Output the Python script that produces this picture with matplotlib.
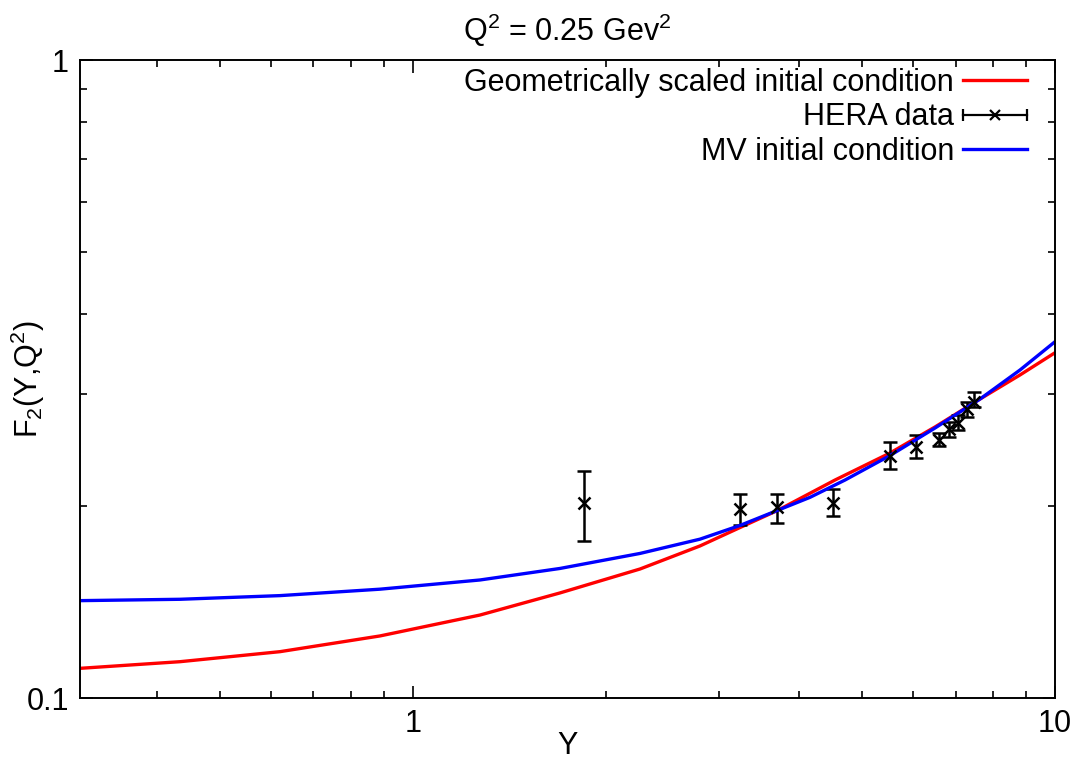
import numpy as np
import matplotlib
matplotlib.use("Agg")
import matplotlib.pyplot as plt
from matplotlib.legend_handler import HandlerBase
from matplotlib.lines import Line2D
from matplotlib.ticker import LogLocator, NullFormatter, FixedLocator, FixedFormatter

plt.rcParams['font.family'] = ['Liberation Sans', 'DejaVu Sans']
plt.rcParams['mathtext.fontset'] = 'custom'
plt.rcParams['mathtext.rm'] = 'Liberation Sans'
plt.rcParams['mathtext.it'] = 'Liberation Sans'

# Geometrically scaled initial condition (red)
geo_y = [0.3029, 0.4336, 0.6207, 0.8884, 1.2715, 1.694, 2.258, 2.799, 3.231, 3.690,
         4.543, 5.534, 6.505, 7.643, 8.822, 10.0]
geo_f2 = [0.1113, 0.1140, 0.1182, 0.1251, 0.1349, 0.1461, 0.1593, 0.1731, 0.1850, 0.1966,
          0.2196, 0.2421, 0.2660, 0.2942, 0.3209, 0.3477]

# MV initial condition (blue)
mv_y = [0.3029, 0.4336, 0.6207, 0.8884, 1.2715, 1.694, 2.258, 2.799, 3.231, 4.153,
        4.709, 5.534, 6.505, 7.643, 8.822, 10.0]
mv_f2 = [0.1421, 0.1428, 0.1447, 0.1481, 0.1531, 0.1596, 0.1685, 0.1774, 0.1864, 0.2063,
         0.2196, 0.2399, 0.2650, 0.2942, 0.3267, 0.3618]

# HERA data
hera_y = [1.849, 3.234, 3.69, 4.51, 5.53, 6.07, 6.59, 6.84, 7.07, 7.29, 7.49]
hera_f2 = [0.2019, 0.1976, 0.1990, 0.2023, 0.2394, 0.2471, 0.2537, 0.2637, 0.2700, 0.2835, 0.2914]
hera_lo = [0.1761, 0.1865, 0.1883, 0.1927, 0.2283, 0.2374, 0.2483, 0.2565, 0.2631, 0.2760, 0.2856]
hera_hi = [0.2271, 0.2090, 0.2088, 0.2126, 0.2516, 0.2580, 0.2599, 0.2707, 0.2777, 0.2914, 0.3021]

labels = ['Geometrically scaled initial condition', 'HERA data', 'MV initial condition']


class ErrHandler(HandlerBase):
    # gnuplot style key sample: horizontal bar with end caps and a cross
    def create_artists(self, legend, orig, xd, yd, w, h, fontsize, trans):
        y = -yd + h / 2
        x0, x1 = -xd, -xd + w
        bar = Line2D([x0, x1], [y, y], color='black', lw=1.6)
        caps = Line2D([x0, x1], [y, y], ls='none', marker='|', ms=9, mew=1.6, color='black')
        mk = Line2D([(x0 + x1) / 2], [y], ls='none', marker='x', ms=7, mew=1.6, color='black')
        for a in (bar, caps, mk):
            a.set_transform(trans)
        return [bar, caps, mk]


fig = plt.figure(figsize=(10.84, 7.62), dpi=100)
ax = fig.add_axes([80 / 1084, 64 / 762, 975 / 1084, 638 / 762])

l1, = ax.plot(geo_y, geo_f2, color='#ff0000', lw=2.4)
yerr = [np.array(hera_f2) - np.array(hera_lo), np.array(hera_hi) - np.array(hera_f2)]
ax.errorbar(hera_y, hera_f2, yerr=yerr, fmt='x', color='black', ms=8.5, mew=1.8,
            elinewidth=1.8, capsize=5, capthick=1.8)
l3, = ax.plot(mv_y, mv_f2, color='#0000ff', lw=2.4)
herah = Line2D([], [], color='black')

ax.set_xscale('log')
ax.set_yscale('log')
ax.set_xlim(0.303, 10)
ax.set_ylim(0.1, 1)

ax.xaxis.set_major_locator(FixedLocator([1, 10]))
ax.xaxis.set_major_formatter(FixedFormatter(['1', '10']))
ax.xaxis.set_minor_locator(LogLocator(base=10, subs=np.arange(2, 10)))
ax.xaxis.set_minor_formatter(NullFormatter())
ax.yaxis.set_major_locator(FixedLocator([0.1, 1]))
ax.yaxis.set_major_formatter(FixedFormatter(['0.1', '1']))
ax.yaxis.set_minor_locator(LogLocator(base=10, subs=np.arange(2, 10)))
ax.yaxis.set_minor_formatter(NullFormatter())

ax.tick_params(which='both', direction='in', top=True, right=True, labelsize=22, width=1.2)
ax.tick_params(which='major', length=9, pad=8)
ax.tick_params(which='minor', length=5)
for s in ax.spines.values():
    s.set_linewidth(1.4)

ax.set_xlabel('Y', fontsize=22, labelpad=-6)
ax.set_ylabel('F$_2$(Y,Q$^2$)', fontsize=22)
ax.yaxis.set_label_coords(-0.034, 0.5)
ax.set_title('Q$^2$ = 0.25 Gev$^2$', fontsize=22, pad=14)

ax.legend([l1, herah, l3], labels,
          handler_map={herah: ErrHandler()}, loc='upper right', bbox_to_anchor=(1 - 20 / 975, 1),
          frameon=False, markerfirst=False, fontsize=22, handlelength=2.1, labelspacing=0.15,
          borderpad=0, borderaxespad=0.25, handletextpad=0.3)

fig.savefig('out.png', dpi=100)
